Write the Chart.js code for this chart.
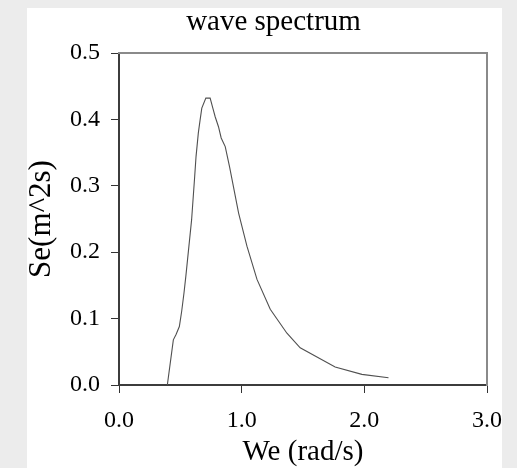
<!DOCTYPE html>
<html>
<head>
<meta charset="utf-8">
<script src="https://cdn.jsdelivr.net/npm/chart.js"></script>
<style>
  html, body { margin: 0; padding: 0; background: #ececec; }
  #wrap { width: 517px; height: 468px; }
</style>
</head>
<body>
<div id="wrap"><canvas id="spectrum" width="517" height="468"></canvas></div>
<script>
const chartTitle = 'wave spectrum';
const xTitle = 'We (rad/s)';
const yTitle = 'Se(m^2s)';

// encounter frequency (rad/s) and spectral density
const we = [0.394, 0.443, 0.465, 0.492, 0.511, 0.530, 0.545, 0.592, 0.617,
            0.628, 0.647, 0.661, 0.675, 0.708, 0.743, 0.765, 0.784, 0.811, 0.833,
            0.866, 0.901, 0.975, 1.043, 1.125, 1.233, 1.369, 1.477, 1.762, 1.980, 2.197];
const se = [0.000, 0.068, 0.076, 0.088, 0.111, 0.139, 0.164, 0.249, 0.314,
            0.344, 0.380, 0.399, 0.417, 0.432, 0.432, 0.417, 0.404, 0.389, 0.372,
            0.359, 0.329, 0.259, 0.209, 0.159, 0.114, 0.078, 0.056, 0.027, 0.016, 0.011];

const xRange = [0, 3];
const yRange = [0, 0.5];

const serif = "'Liberation Serif', 'Times New Roman', serif";

// grey page with the white panel behind the chart
const panelBg = {
  id: 'panelBg',
  beforeDraw(chart) {
    const ctx = chart.ctx;
    ctx.save();
    ctx.fillStyle = '#ececec';
    ctx.fillRect(0, 0, chart.width, chart.height);
    ctx.fillStyle = '#ffffff';
    ctx.fillRect(27, 8, 475, chart.height - 8);
    ctx.restore();
  }
};

const ctx = document.getElementById('spectrum').getContext('2d');

new Chart(ctx, {
  type: 'line',
  data: {
    datasets: [{
      label: 'Se',
      data: we.map((w, i) => ({ x: w, y: se[i] })),
      borderColor: '#505050',
      borderWidth: 1.1,
      pointRadius: 0,
      tension: 0,
      fill: false
    }]
  },
  options: {
    responsive: false,
    devicePixelRatio: 1,
    animation: false,
    layout: { padding: { left: 30, right: 0, top: 0, bottom: 0 } },
    plugins: {
      legend: { display: false },
      tooltip: { enabled: false },
      title: {
        display: true,
        text: chartTitle,
        color: '#000',
        font: { family: serif, size: 29, weight: 'normal', lineHeight: 1.2 },
        padding: { top: 5, bottom: 0 }
      }
    },
    scales: {
      x: {
        type: 'linear',
        position: 'bottom',
        min: xRange[0],
        max: xRange[1],
        ticks: {
          stepSize: 1,
          color: '#000',
          padding: 13,
          font: { family: serif, size: 24 },
          callback: v => v.toFixed(1)
        },
        grid: { drawOnChartArea: false, tickLength: 8, color: '#333' },
        border: { color: '#3c3c3c', width: 2 },
        title: {
          display: true,
          text: xTitle,
          color: '#000',
          font: { family: serif, size: 29, lineHeight: 1.1 },
          padding: 0
        },
        afterFit: s => { s.height = 83; }
      },
      y: {
        type: 'linear',
        position: 'left',
        min: yRange[0],
        max: yRange[1],
        ticks: {
          stepSize: 0.1,
          color: '#000',
          padding: 11,
          font: { family: serif, size: 24 },
          callback: v => v.toFixed(1)
        },
        grid: { drawOnChartArea: false, tickLength: 8, color: '#333' },
        border: { color: '#3c3c3c', width: 2 },
        title: {
          display: true,
          text: yTitle,
          color: '#000',
          font: { family: serif, size: 31, lineHeight: 0.75 },
          padding: 0
        },
        afterFit: s => { s.width = 89; }
      },
      // frame on the top and right side
      xTop: {
        type: 'linear',
        position: 'top',
        min: xRange[0],
        max: xRange[1],
        ticks: { display: false },
        grid: { display: false },
        border: { color: '#8a8a8a', width: 2 },
        afterFit: s => { s.height = 13.2; }
      },
      yRight: {
        type: 'linear',
        position: 'right',
        min: yRange[0],
        max: yRange[1],
        ticks: { display: false },
        grid: { display: false },
        border: { color: '#8a8a8a', width: 2 },
        afterFit: s => { s.width = 30; }
      }
    }
  },
  plugins: [panelBg]
});
</script>
</body>
</html>
